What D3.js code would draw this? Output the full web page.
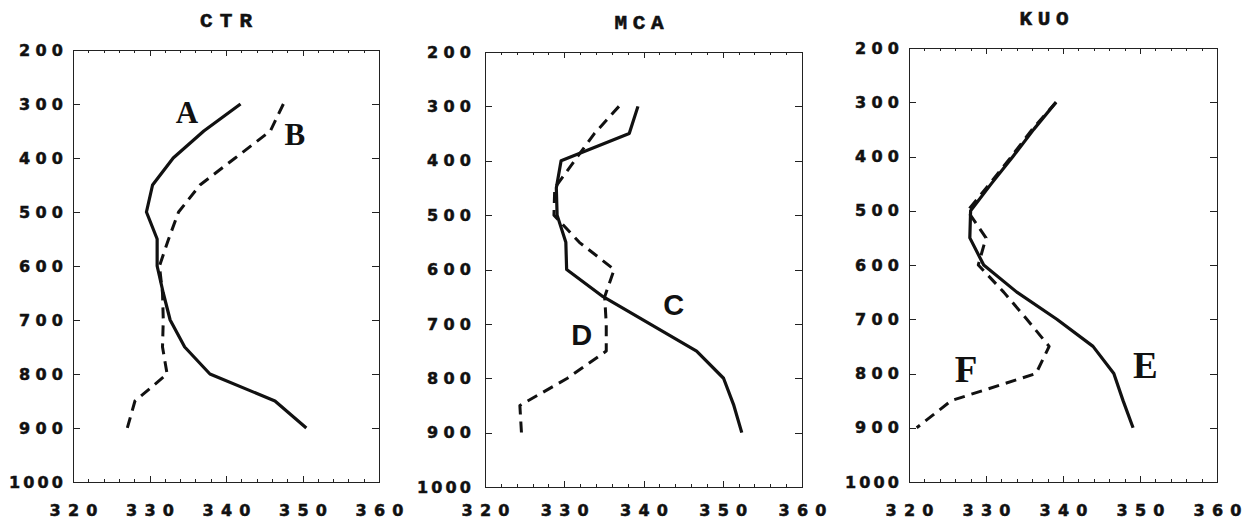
<!DOCTYPE html>
<meta charset="utf-8">
<head>
<style>
 body { margin: 0; background: #fff; }
 .axis path, .axis line {
   stroke: #222;
   stroke-width: 1px;
   shape-rendering: crispEdges;
 }
 .axis text {
   font-family: "DejaVu Sans", sans-serif;
   font-weight: bold;
   font-size: 16px;
   fill: #111;
   stroke: #111;
   stroke-width: 0.5px;
 }
 .title {
   font-family: "Liberation Mono", monospace;
   font-weight: bold;
   font-size: 21px;
   fill: #111;
   stroke: #111;
   stroke-width: 0.6px;
 }
 .profile {
   fill: none;
   stroke: #111;
   stroke-width: 3.2px;
   stroke-linejoin: round;
 }
 .profile.dashed { stroke-width: 3px; stroke-dasharray: 11, 7; }
 .tag { font-weight: bold; fill: #111; text-anchor: middle; }
 .tag.serif { font-family: "Liberation Serif", "Times New Roman", serif; }
 .tag.sans { font-family: "Liberation Sans", Arial, sans-serif; }
</style>
</head>
<body>
<svg width="1247" height="521"></svg>
<script src="https://d3js.org/d3.v7.min.js"></script>
<script>
  // pressure levels (hPa) shared by every profile
  var pressure = [300, 350, 400, 450, 500, 550, 600, 650, 700, 750, 800, 850, 900];

  // CTR
  var ctrA = [341.9, 337.1, 333.1, 330.4, 329.6, 331.0, 331.0, 331.8, 332.7, 334.6, 337.9, 346.4, 350.5];
  var ctrB = [347.5, 345.8, 341.2, 336.6, 333.8, 332.5, 331.3, 331.7, 331.8, 331.7, 332.3, 328.1, 327.1];
  // MCA
  var mcaC = [339.3, 338.2, 329.6, 329.0, 329.1, 330.2, 330.3, 334.9, 340.8, 346.7, 350.1, 351.4, 352.4];
  var mcaD = [336.9, 333.8, 331.3, 328.8, 328.7, 331.9, 336.3, 335.1, 335.3, 335.3, 330.4, 324.4, 324.6];
  // KUO
  var kuoE = [339.1, 336.2, 333.5, 330.7, 328.0, 327.9, 329.7, 334.0, 339.2, 343.9, 346.6, 347.8, 349.1];
  var kuoF = [339.1, 336.0, 333.3, 330.5, 327.6, 330.0, 329.0, 332.3, 335.3, 338.2, 336.5, 325.5, 321.0];

  var titles = ['CTR', 'MCA', 'KUO'];
  var xTicks = [320, 330, 340, 350, 360];
  var yTicks = [200, 300, 400, 500, 600, 700, 800, 900, 1000];

  // curve labels: panel index, letter, theta, pressure
  var tags = [
    [0, 'A', 334.9, 335], [0, 'B', 349.0, 376],
    [1, 'C', 343.8, 684], [1, 'D', 332.2, 739],
    [2, 'E', 350.7, 808], [2, 'F', 327.4, 816]
  ];

  var series = [
    [{v: ctrA, dash: false}, {v: ctrB, dash: true}],
    [{v: mcaC, dash: false}, {v: mcaD, dash: true}],
    [{v: kuoE, dash: false}, {v: kuoF, dash: true}]
  ];

  // frame of each panel as it sits on the page
  var frames = [
    {x0: 73,  x1: 379,  y0: 50, y1: 482, pad: 10, tx: 226,  ty: 27, tagSize: 31, tagFont: 'serif'},
    {x0: 485, x1: 802,  y0: 52, y1: 487, pad: 14, tx: 639,  ty: 29, tagSize: 29, tagFont: 'sans'},
    {x0: 909, x1: 1217, y0: 48, y1: 482, pad: 10, tx: 1044, ty: 25, tagSize: 37, tagFont: 'serif'}
  ];

  var svg = d3.select('svg');

  frames.forEach(function(f, i) {
    var x = d3.scaleLinear().domain([320, 360]).range([f.x0, f.x1]);
    var y = d3.scaleLinear().domain([200, 1000]).range([f.y0, f.y1]);
    var g = svg.append('g');
    var minor = d3.range(320, 361, 2);

    // y axes, digits spread out like the typewriter original
    g.append('g').attr('class', 'axis')
      .attr('transform', 'translate(' + f.x0 + ',0)')
      .call(d3.axisLeft(y).tickValues(yTicks).tickSizeInner(-7).tickSizeOuter(0)
            .tickPadding(f.pad).tickFormat(d3.format('d')))
      .selectAll('text')
        .attr('textLength', function(d) { return d >= 1000 ? 54 : 44; })
        .attr('lengthAdjust', 'spacing');
    g.append('g').attr('class', 'axis')
      .attr('transform', 'translate(' + f.x1 + ',0)')
      .call(d3.axisRight(y).tickValues(yTicks).tickSizeInner(-7).tickSizeOuter(0).tickFormat(''));

    // x axes, minor then major ticks
    g.append('g').attr('class', 'axis')
      .attr('transform', 'translate(0,' + f.y0 + ')')
      .call(d3.axisTop(x).tickValues(minor).tickSizeInner(-3).tickSizeOuter(0).tickFormat(''));
    g.append('g').attr('class', 'axis')
      .attr('transform', 'translate(0,' + f.y0 + ')')
      .call(d3.axisTop(x).tickValues(xTicks).tickSizeInner(-6).tickSizeOuter(0).tickFormat(''));
    g.append('g').attr('class', 'axis')
      .attr('transform', 'translate(0,' + f.y1 + ')')
      .call(d3.axisBottom(x).tickValues(minor).tickSizeInner(-3).tickSizeOuter(0).tickFormat(''));
    g.append('g').attr('class', 'axis')
      .attr('transform', 'translate(0,' + f.y1 + ')')
      .call(d3.axisBottom(x).tickValues(xTicks).tickSizeInner(-6).tickSizeOuter(0)
            .tickPadding(517 - f.y1 - 12).tickFormat(d3.format('d')))
      .selectAll('text')
        .attr('textLength', 48)
        .attr('lengthAdjust', 'spacing');

    g.append('text').attr('class', 'title')
      .attr('x', f.tx).attr('y', f.ty)
      .attr('text-anchor', 'middle')
      .attr('textLength', i === 0 ? 52 : 49)
      .attr('lengthAdjust', 'spacing')
      .text(titles[i]);

    var line = d3.line()
      .x(function(d) { return x(d[0]); })
      .y(function(d) { return y(d[1]); });

    series[i].forEach(function(s) {
      g.append('path')
        .attr('class', s.dash ? 'profile dashed' : 'profile')
        .attr('d', line(d3.zip(s.v, pressure)));
    });

    tags.filter(function(t) { return t[0] === i; }).forEach(function(t) {
      g.append('text')
        .attr('class', 'tag ' + f.tagFont)
        .attr('x', x(t[2])).attr('y', y(t[3]))
        .style('font-size', f.tagSize + 'px')
        .text(t[1]);
    });
  });
</script>
</body>
</html>
